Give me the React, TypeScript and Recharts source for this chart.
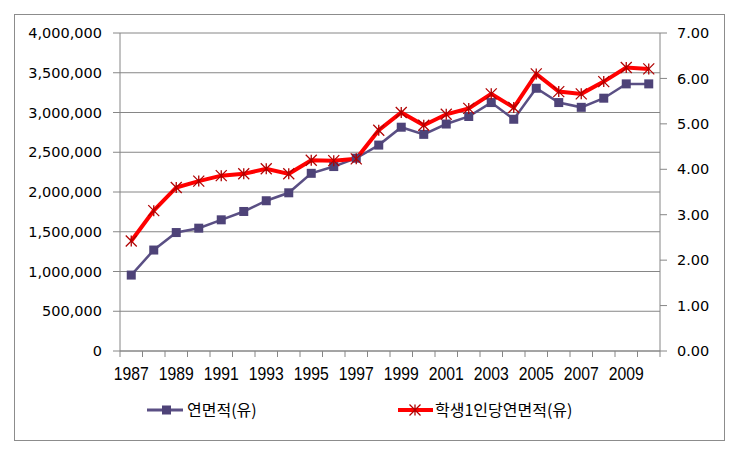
import React from "react";
import {
  ComposedChart,
  Line,
  XAxis,
  YAxis,
  CartesianGrid,
  Legend,
} from "recharts";

// Years on the category axis
const years = [
  1987, 1988, 1989, 1990, 1991, 1992, 1993, 1994, 1995, 1996, 1997, 1998,
  1999, 2000, 2001, 2002, 2003, 2004, 2005, 2006, 2007, 2008, 2009, 2010,
];

// 연면적(유) - left axis
const totalArea = [
  955000, 1270000, 1490000, 1545000, 1650000, 1755000, 1890000, 1990000,
  2235000, 2320000, 2425000, 2590000, 2815000, 2725000, 2855000, 2950000,
  3125000, 2915000, 3305000, 3125000, 3065000, 3180000, 3360000, 3360000,
];

// 학생1인당연면적(유) - right axis
const perStudent = [
  2.42, 3.09, 3.6, 3.74, 3.86, 3.9, 4.01, 3.9, 4.2, 4.19, 4.23, 4.86,
  5.25, 4.97, 5.21, 5.34, 5.66, 5.36, 6.1, 5.71, 5.66, 5.93, 6.24, 6.21,
];

const leftTicks = [0, 500000, 1000000, 1500000, 2000000, 2500000, 3000000, 3500000, 4000000];
const rightTicks = [0, 1, 2, 3, 4, 5, 6, 7];
const yearLabels = [1987, 1989, 1991, 1993, 1995, 1997, 1999, 2001, 2003, 2005, 2007, 2009];

const seriesNames = ["연면적(유)", "학생1인당연면적(유)"];

const data = years.map((year, i) => ({
  year,
  area: totalArea[i],
  perStudent: perStudent[i],
}));

// tick marks sit between categories, labels on every other year
const xTicks = [
  ...years.map((y) => y - 0.5),
  years[years.length - 1] + 0.5,
  ...yearLabels,
].sort((a, b) => a - b);

const AXIS = "#868686";
const PURPLE = "#5a4f84";
const RED = "#ff0000";

const SquareDot = (props: any) => {
  const { cx, cy } = props;
  if (cx == null || cy == null) return null;
  return <rect x={cx - 4.5} y={cy - 4.5} width={9} height={9} fill="#4e4378" />;
};

const StarDot = (props: any) => {
  const { cx, cy } = props;
  if (cx == null || cy == null) return null;
  const r = 5.5;
  return (
    <g stroke="#b00000" strokeWidth={1.3}>
      <line x1={cx - r} y1={cy - r} x2={cx + r} y2={cy + r} />
      <line x1={cx - r} y1={cy + r} x2={cx + r} y2={cy - r} />
      <line x1={cx} y1={cy - r} x2={cx} y2={cy + r} />
    </g>
  );
};

const YearTick = (props: any) => {
  const { x, y, payload } = props;
  const v = payload.value as number;
  if (!Number.isInteger(v)) {
    return <line x1={x} y1={y} x2={x} y2={y + 6} stroke={AXIS} />;
  }
  return (
    <text
      x={x}
      y={y + 29}
      textAnchor="middle"
      fontSize={19}
      fontFamily="'Liberation Sans'"
      textLength={35}
      lengthAdjust="spacingAndGlyphs"
      fill="#000"
    >
      {v}
    </text>
  );
};

const CustomLegend = () => (
  <div style={{ position: "relative", height: 20, fontFamily: "'Noto Sans CJK KR'", fontSize: 16 }}>
    <svg width={741} height={20} style={{ position: "absolute", left: 0, top: 0 }}>
      <line x1={147} y1={10} x2={183} y2={10} stroke={PURPLE} strokeWidth={3} />
      <rect x={162} y={5.5} width={9} height={9} fill="#4e4378" />
      <line x1={398} y1={10} x2={433} y2={10} stroke={RED} strokeWidth={4} />
      <StarDot cx={415} cy={10} />
    </svg>
    <span style={{ position: "absolute", left: 187, top: -3, color: "#000" }}>{seriesNames[0]}</span>
    <span style={{ position: "absolute", left: 435, top: -3, color: "#000" }}>{seriesNames[1]}</span>
  </div>
);

export default function App() {
  return (
    <div style={{ position: "absolute", left: 0, top: 0, width: 741, height: 454, background: "#fff" }}>
      <div
        style={{
          position: "absolute",
          left: 14,
          top: 14,
          width: 709,
          height: 425,
          border: "1px solid #8c8c8c",
        }}
      />
      <ComposedChart
        width={741}
        height={454}
        data={data}
        margin={{ top: 33, right: 17, left: 14, bottom: 53 }}
        style={{ position: "absolute", left: 0, top: 0 }}
      >
        <CartesianGrid yAxisId="left" horizontal vertical={false} stroke={AXIS} strokeWidth={1} />
        <XAxis
          dataKey="year"
          type="number"
          domain={[years[0] - 0.5, years[years.length - 1] + 0.5]}
          ticks={xTicks}
          interval={0}
          tick={<YearTick />}
          tickLine={false}
          tickSize={0}
          tickMargin={0}
          height={30}
          axisLine={{ stroke: AXIS }}
        />
        <YAxis
          yAxisId="left"
          domain={[0, 4000000]}
          ticks={leftTicks}
          interval={0}
          width={106}
          tickSize={7}
          tickMargin={11}
          axisLine={{ stroke: AXIS }}
          tickLine={{ stroke: AXIS }}
          tick={{ fill: "#000", fontSize: 14.5, fontFamily: "DejaVu Sans" }}
          tickFormatter={(v: number) => v.toLocaleString("en-US")}
        />
        <YAxis
          yAxisId="right"
          orientation="right"
          domain={[0, 7]}
          ticks={rightTicks}
          interval={0}
          width={64}
          tickSize={7}
          tickMargin={10}
          axisLine={{ stroke: AXIS }}
          tickLine={{ stroke: AXIS }}
          tick={{ fill: "#000", fontSize: 14.5, fontFamily: "DejaVu Sans" }}
          tickFormatter={(v: number) => v.toFixed(2)}
        />
        <Line
          yAxisId="left"
          dataKey="area"
          name={seriesNames[0]}
          type="linear"
          stroke={PURPLE}
          strokeWidth={2.5}
          dot={<SquareDot />}
          activeDot={false}
          isAnimationActive={false}
        />
        <Line
          yAxisId="right"
          dataKey="perStudent"
          name={seriesNames[1]}
          type="linear"
          stroke={RED}
          strokeWidth={4}
          dot={<StarDot />}
          activeDot={false}
          isAnimationActive={false}
        />
        <Legend
          verticalAlign="bottom"
          content={<CustomLegend />}
          wrapperStyle={{ left: 0, top: 400, width: 741, height: 20 }}
        />
      </ComposedChart>
    </div>
  );
}
